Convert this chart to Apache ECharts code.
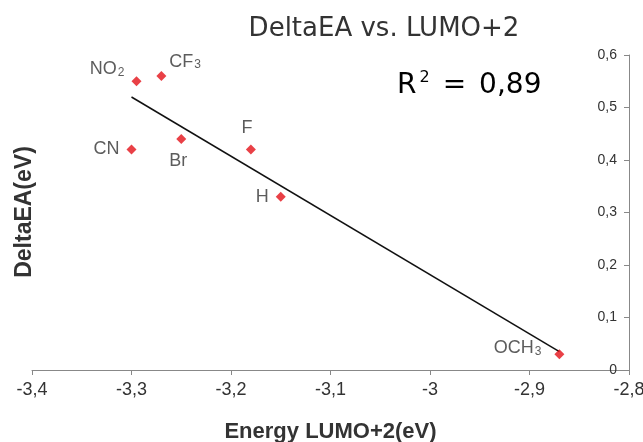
<!DOCTYPE html>
<html>
<head>
<meta charset="utf-8">
<script src="https://cdn.jsdelivr.net/npm/echarts@6/dist/echarts.min.js"></script>
<style>html,body{margin:0;padding:0;background:#fff}#c{width:643px;height:442px}</style>
</head>
<body>
<div id="c"></div>
<script>
// Data
const labels = ['NO2', 'CF3', 'CN', 'Br', 'F', 'H', 'OCH3'];
const energyLumo2 = [-3.295, -3.27, -3.30, -3.25, -3.18, -3.15, -2.87];
const deltaEA = [0.55, 0.56, 0.42, 0.44, 0.42, 0.33, 0.03];
const trendX = [-3.30, -2.87];
const trendY = [0.52, 0.035];
const xTicks = [-3.4, -3.3, -3.2, -3.1, -3.0, -2.9, -2.8];
const yTicks = [0, 0.1, 0.2, 0.3, 0.4, 0.5, 0.6];

const richText = {
  b: { fontSize: 18, color: '#333', fontFamily: 'Liberation Sans' },
  s: { fontSize: 12, color: '#333', fontFamily: 'Liberation Sans', verticalAlign: 'bottom', lineHeight: 12, padding: [10, 0, 0, 1] }
};
function fmtLabel(name) {
  const m = name.match(/^([A-Za-z]+?)(\d+)$/);
  if (m) return '{b|' + m[1] + '}{s|' + m[2] + '}';
  return '{b|' + name + '}';
}
const labelStyle = {
  NO2: { position: 'left', offset: [-2, -12] },
  CF3: { position: 'right', offset: [-2, -14] },
  CN: { position: 'left', offset: [-2, 0] },
  Br: { position: 'bottom', offset: [-3, 3] },
  F: { position: 'top', offset: [-4, -2] },
  H: { position: 'left', offset: [-2, 0] },
  OCH3: { position: 'left', offset: [-8, -6] }
};
const fmtNum = v => String(Math.round(v * 10) / 10).replace('.', ',');

const chart = echarts.init(document.getElementById('c'), null, { renderer: 'canvas' });
chart.setOption({
  animation: false,
  backgroundColor: '#fff',
  title: {
    text: 'DeltaEA vs. LUMO+2',
    left: 379, top: 11, textAlign: 'center',
    textStyle: { fontFamily: 'DejaVu Sans', fontSize: 26, fontWeight: 'normal', color: '#333' }
  },
  graphic: [{
    type: 'text', left: 397, top: 70,
    style: {
      text: '{r|R}{p|2}{e|=}{r|0,89}',
      rich: {
        r: { fontFamily: 'DejaVu Sans', fontSize: 28, color: '#333' },
        e: { fontFamily: 'DejaVu Sans', fontSize: 28, color: '#333', padding: [0, 13, 0, 13] },
        p: { fontFamily: 'DejaVu Sans', fontSize: 16, color: '#333', verticalAlign: 'top', padding: [0, 0, 16, 3] }
      }
    }
  }, {
    type: 'text', x: 25, y: 212, rotation: Math.PI / 2,
    style: {
      text: 'DeltaEA(eV)', align: 'center', verticalAlign: 'middle',
      fontFamily: 'Liberation Sans', fontSize: 23, fontWeight: 'bold', fill: '#333'
    }
  }],
  grid: { left: 32, right: 14, top: 55, bottom: 72, containLabel: false, outerBoundsMode: 'none' },
  xAxis: {
    type: 'value', min: -3.4, max: -2.8, interval: 0.1,
    name: 'Energy LUMO+2(eV)', nameLocation: 'middle', nameGap: 51,
    nameTextStyle: { fontFamily: 'Liberation Sans', fontSize: 22, fontWeight: 'bold', color: '#333' },
    axisLine: { show: true, onZero: false, lineStyle: { color: '#888', width: 1 } },
    axisTick: { show: true, length: 5, lineStyle: { color: '#888' } },
    axisLabel: { fontFamily: 'Liberation Sans', fontSize: 18, color: '#333', margin: 11, formatter: fmtNum, showMinLabel: true, showMaxLabel: true },
    splitLine: { show: false }
  },
  yAxis: {
    type: 'value', min: 0, max: 0.6, interval: 0.1, position: 'right',
    axisLine: { show: true, lineStyle: { color: '#888', width: 1 } },
    axisTick: { show: true, inside: true, length: 5, lineStyle: { color: '#888' } },
    axisLabel: { inside: true, fontFamily: 'Liberation Sans', fontSize: 14, color: '#333', margin: 12, formatter: fmtNum },
    splitLine: { show: false }
  },
  series: [
    {
      type: 'line', data: trendX.map((x, i) => [x, trendY[i]]),
      symbol: 'none', lineStyle: { color: '#111', width: 1.5 }, silent: true, z: 1
    },
    {
      type: 'scatter', symbol: 'diamond', symbolSize: 10,
      itemStyle: { color: '#e41018' }, z: 3,
      data: labels.map((n, i) => ({
        value: [energyLumo2[i], deltaEA[i]],
        label: Object.assign({ show: true, formatter: fmtLabel(n), rich: richText }, labelStyle[n])
      }))
    }
  ]
});
</script>
</body>
</html>
